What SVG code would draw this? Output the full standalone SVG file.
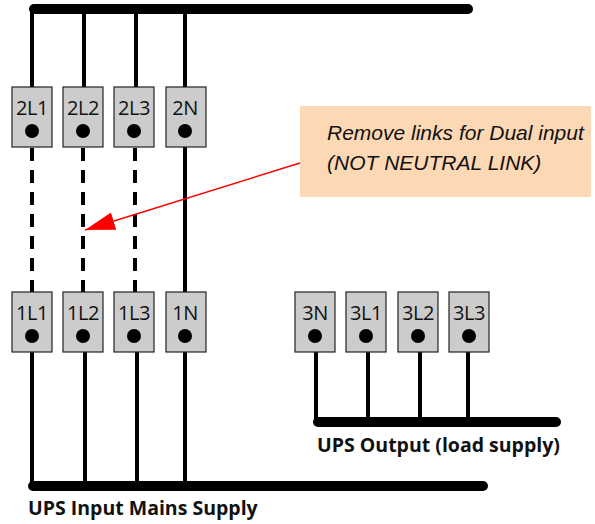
<svg xmlns="http://www.w3.org/2000/svg" width="595" height="524" viewBox="0 0 595 524">
<defs>
<style>
.bus{stroke:#000;stroke-width:10;stroke-linecap:round;fill:none}
.wire{stroke:#000;stroke-width:4;fill:none}
.link{stroke:#000;stroke-width:4;stroke-dasharray:13 9;fill:none}
.box{fill:#cccccc;stroke:#222;stroke-width:1.2}
.dot{fill:#000}
.lbl{font-family:"Open Sans","Noto Sans",sans-serif;font-size:20px;fill:#111;text-anchor:middle;letter-spacing:-0.5px}
.cap{font-family:"Open Sans","Noto Sans",sans-serif;font-size:19.5px;font-weight:bold;fill:#111}
.note{font-family:"Liberation Sans",Arial,sans-serif;font-size:21px;font-style:italic;fill:#111}
</style>
<marker id="arr" markerUnits="userSpaceOnUse" markerWidth="32" markerHeight="20" refX="30" refY="9" orient="auto">
<path d="M0,0 L30,9 L0,18 Z" fill="#ff0000"/>
</marker>
</defs>
<rect width="595" height="524" fill="#fff"/>
<g id="connectors">
<line class="bus" x1="34" y1="9" x2="468" y2="9"/>
<line class="bus" x1="33" y1="486" x2="483" y2="486"/>
<line class="bus" x1="318" y1="422" x2="556" y2="422"/>
<line class="wire" x1="32" y1="9" x2="32" y2="87"/>
<line class="wire" x1="84" y1="9" x2="84" y2="87"/>
<line class="wire" x1="136" y1="9" x2="136" y2="87"/>
<line class="wire" x1="185" y1="9" x2="185" y2="87"/>
<line class="link" x1="32" y1="148" x2="32" y2="292"/>
<line class="link" x1="83" y1="148" x2="83" y2="292"/>
<line class="link" x1="135" y1="148" x2="135" y2="292"/>
<line class="wire" x1="185" y1="147" x2="185" y2="292"/>
<line class="wire" x1="32" y1="352" x2="32" y2="486"/>
<line class="wire" x1="85" y1="352" x2="85" y2="486"/>
<line class="wire" x1="137" y1="352" x2="137" y2="486"/>
<line class="wire" x1="185" y1="352" x2="185" y2="486"/>
<line class="wire" x1="316" y1="352" x2="316" y2="422"/>
<line class="wire" x1="368" y1="352" x2="368" y2="422"/>
<line class="wire" x1="420" y1="352" x2="420" y2="422"/>
<line class="wire" x1="468" y1="352" x2="468" y2="422"/>
<line x1="300" y1="163" x2="85" y2="230" stroke="#ff0000" stroke-width="1.5" marker-end="url(#arr)"/>
</g>
<g id="t2L1"><rect class="box" x="12" y="87" width="40" height="60"/><text class="lbl" x="32" y="115">2L1</text><circle class="dot" cx="32" cy="131" r="7"/></g>
<g id="t2L2"><rect class="box" x="63" y="87" width="40" height="60"/><text class="lbl" x="83" y="115">2L2</text><circle class="dot" cx="83" cy="131" r="7"/></g>
<g id="t2L3"><rect class="box" x="114" y="87" width="40" height="60"/><text class="lbl" x="134" y="115">2L3</text><circle class="dot" cx="134" cy="131" r="7"/></g>
<g id="t2N"><rect class="box" x="166" y="87" width="40" height="60"/><text class="lbl" x="185" y="115">2N</text><circle class="dot" cx="185" cy="131" r="7"/></g>
<g id="t1L1"><rect class="box" x="12" y="292" width="40" height="60"/><text class="lbl" x="32" y="320">1L1</text><circle class="dot" cx="32" cy="336" r="7"/></g>
<g id="t1L2"><rect class="box" x="63" y="292" width="40" height="60"/><text class="lbl" x="83" y="320">1L2</text><circle class="dot" cx="83" cy="336" r="7"/></g>
<g id="t1L3"><rect class="box" x="114" y="292" width="40" height="60"/><text class="lbl" x="134" y="320">1L3</text><circle class="dot" cx="134" cy="336" r="7"/></g>
<g id="t1N"><rect class="box" x="166" y="292" width="40" height="60"/><text class="lbl" x="185" y="320">1N</text><circle class="dot" cx="185" cy="336" r="7"/></g>
<g id="t3N"><rect class="box" x="295" y="292" width="40" height="60"/><text class="lbl" x="315" y="320">3N</text><circle class="dot" cx="315" cy="336" r="7"/></g>
<g id="t3L1"><rect class="box" x="346" y="292" width="40" height="60"/><text class="lbl" x="366" y="320">3L1</text><circle class="dot" cx="366" cy="336" r="7"/></g>
<g id="t3L2"><rect class="box" x="398" y="292" width="40" height="60"/><text class="lbl" x="418" y="320">3L2</text><circle class="dot" cx="418" cy="336" r="7"/></g>
<g id="t3L3"><rect class="box" x="449" y="292" width="40" height="60"/><text class="lbl" x="469" y="320">3L3</text><circle class="dot" cx="469" cy="336" r="7"/></g>
<g id="note">
<rect x="300" y="106" width="291" height="91" fill="#fdd8b5"/>
<text class="note" x="327" y="140">Remove links for Dual input</text>
<text class="note" x="327" y="170">(NOT NEUTRAL LINK)</text>
</g>
<text class="cap" x="28" y="515">UPS Input Mains Supply</text>
<text class="cap" x="317" y="452">UPS Output (load supply)</text>
</svg>
